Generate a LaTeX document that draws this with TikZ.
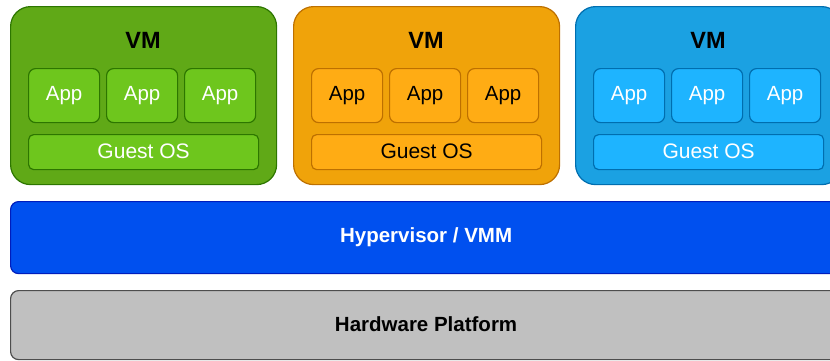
\documentclass[tikz,border=0pt]{standalone}
\usepackage{fontspec}
\setmainfont{Liberation Sans}
\newcommand{\lifted}[1]{\raisebox{1.5pt}{#1}}
\begin{document}
\begin{tikzpicture}[x=1pt,y=-1pt,
  box/.style={draw, line width=1.2pt, rectangle, inner sep=0pt, anchor=north west},
  vmbox/.style={box, rounded corners=20pt},
  appbox/.style={box, rounded corners=7pt, minimum width=71pt, minimum height=54pt, font=\fontsize{20.5}{22}\selectfont},
  osbox/.style={box, rounded corners=5pt, minimum width=230pt, minimum height=35pt, font=\fontsize{21}{22}\selectfont},
  layer/.style={box, rounded corners=8pt, minimum width=831pt, font=\bfseries\fontsize{20.5}{22}\selectfont},
  vmlabel/.style={font=\bfseries\fontsize{23.5}{24}\selectfont, text=black}
]
\definecolor{gOut}{HTML}{60A917}\definecolor{gIn}{HTML}{6EC61D}\definecolor{gLine}{HTML}{2D7600}
\definecolor{oOut}{HTML}{F0A30A}\definecolor{oIn}{HTML}{FFAC14}\definecolor{oLine}{HTML}{BD7000}
\definecolor{bOut}{HTML}{1BA1E2}\definecolor{bIn}{HTML}{1EB4FF}\definecolor{bLine}{HTML}{006EAF}
\definecolor{hvFill}{HTML}{0050EF}\definecolor{hvLine}{HTML}{001DBC}
\definecolor{hwFill}{HTML}{C0C0C0}\definecolor{hwLine}{HTML}{4D4D4D}

\useasboundingbox (0,0) rectangle (830,360);

% three virtual machines: left edge, outer colour, inner colour, border, text colour
\foreach \i/\x/\outc/\inc/\linec/\txt in {1/10/gOut/gIn/gLine/white, 2/293/oOut/oIn/oLine/black, 3/575/bOut/bIn/bLine/white}{
  \node[vmbox, fill=\outc, draw=\linec, minimum width=266pt, minimum height=178pt] (vm\i) at (\x,6) {};
  \node[vmlabel] (vm\i label) at (\x+133,40) {VM};
  \node[appbox, fill=\inc, draw=\linec, text=\txt] (vm\i app1) at (\x+18,68) {\lifted{App}};
  \node[appbox, fill=\inc, draw=\linec, text=\txt] (vm\i app2) at (\x+96,68) {\lifted{App}};
  \node[appbox, fill=\inc, draw=\linec, text=\txt] (vm\i app3) at (\x+174,68) {\lifted{App}};
  \node[osbox, fill=\inc, draw=\linec, text=\txt] (vm\i os) at (\x+18,134) {\lifted{Guest OS}};
}

% hypervisor and hardware layers
\node[layer, fill=hvFill, draw=hvLine, text=white, minimum height=72pt] (hyper) at (10,201) {Hypervisor / VMM};
\node[layer, fill=hwFill, draw=hwLine, text=black, minimum height=69pt] (hw) at (10,290) {\lifted{Hardware Platform}};
\end{tikzpicture}
\end{document}
